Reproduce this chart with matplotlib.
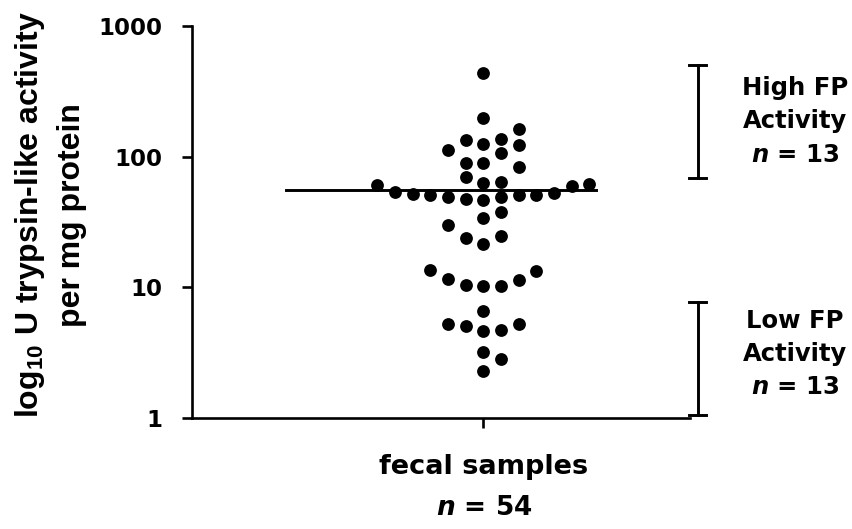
import numpy as np
import matplotlib.pyplot as plt
from matplotlib.ticker import NullLocator

plt.rcParams['font.family'] = 'DejaVu Sans'
plt.rcParams['font.weight'] = 'bold'
plt.rcParams['mathtext.fontset'] = 'custom'
plt.rcParams['mathtext.rm'] = 'Liberation Sans:bold'
plt.rcParams['mathtext.it'] = 'DejaVu Sans:bold:italic'

# trypsin-like activity per sample (U / mg protein)
activity = [440, 199, 164, 135, 136, 125, 122, 112, 106, 89.5, 89.5, 82.8,
            70, 63, 64.4, 60.8, 60, 61.9,
            54, 51.9, 51.3, 48.9, 47.5, 46.2, 48.9, 51, 51.3, 52.8,
            38, 33.8, 30.1, 24, 21.6, 24.9,
            13.6, 11.5, 10.5, 10.2, 10.2, 11.3, 13.3,
            6.56, 5.28, 5.07, 4.62, 4.69, 5.28,
            3.21, 2.81, 2.28]
# swarm column of each dot (0 = category centre)
swarm_slot = [0, 0, 2, -1, 1, 0, 2, -2, 1, -1, 0, 2,
              -1, 0, 1, -6, 5, 6,
              -5, -4, -3, -2, -1, 0, 1, 2, 3, 4,
              1, 0, -2, -1, 0, 1,
              -3, -2, -1, 0, 1, 2, 3,
              0, -2, -1, 0, 1, 2,
              0, 1, 0]
median_activity = 55.7
high_range = [69, 500]
low_range = [1.05, 7.7]
group_text = ['High FP\nActivity\n$n$ = 13', 'Low FP\nActivity\n$n$ = 13']
category = 'fecal samples'
n_total = 54

fig = plt.figure(figsize=(8.53, 5.29), dpi=100)
ax = fig.add_axes([0.2251, 0.2098, 0.5838, 0.7411])

ax.scatter(swarm_slot, activity, s=85, color='black', linewidths=0, zorder=3)
ax.plot([-11.2, 6.4], [median_activity, median_activity], color='black', lw=2.1, zorder=2)

ax.set_yscale('log')
ax.set_ylim(1, 1000)
ax.set_xlim(-16.5, 11.7)
ax.set_yticks([1, 10, 100, 1000], ['1', '10', '100', '1000'])
ax.yaxis.set_minor_locator(NullLocator())
ax.set_xticks([0], [category])

for side in ['top', 'right']:
    ax.spines[side].set_visible(False)
for side in ['left', 'bottom']:
    ax.spines[side].set_linewidth(1.9)
ax.tick_params(axis='y', length=7, width=1.9, pad=14, labelsize=16.5)
ax.tick_params(axis='x', length=7, width=1.9, pad=19, labelsize=19.5)

# range brackets on the right
tr = ax.get_yaxis_transform()
for rng in [high_range, low_range]:
    ax.plot([1.016, 1.016], rng, color='black', lw=2.1, transform=tr, clip_on=False)
    for v in rng:
        ax.plot([0.999, 1.033], [v, v], color='black', lw=2.1, transform=tr, clip_on=False)

fig.text(795 / 853, 1 - 121 / 529, group_text[0], ha='center', va='center',
         fontsize=17.5, linespacing=1.5)
fig.text(795 / 853, 1 - 354 / 529, group_text[1], ha='center', va='center',
         fontsize=17.5, linespacing=1.5)

fig.text(484 / 853, 1 - 508 / 529, '$n$ = %d' % n_total, ha='center', va='center', fontsize=19)

fig.text(30 / 853, 1 - 215 / 529, 'log$_{10}$ U trypsin-like activity', rotation=90,
         ha='center', va='center', fontsize=23, family='Liberation Sans')
fig.text(72 / 853, 1 - 215 / 529, 'per mg protein', rotation=90,
         ha='center', va='center', fontsize=23, family='Liberation Sans')

fig.savefig('out.png', dpi=100)
